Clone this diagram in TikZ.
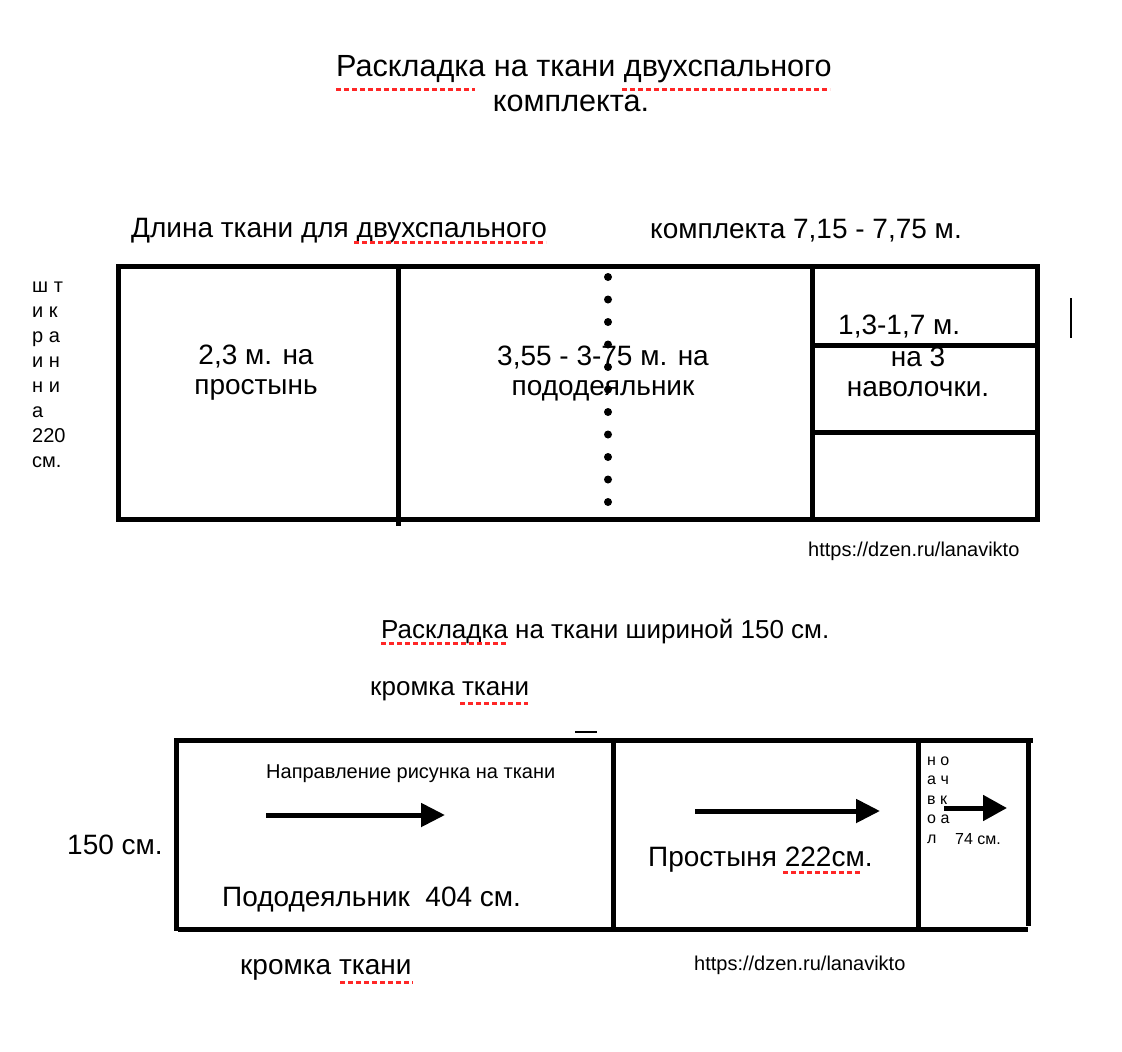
\documentclass[tikz,border=0pt]{standalone}
\usepackage{fontspec}
\setmainfont{Liberation Sans}
\usetikzlibrary{arrows.meta}

\tikzset{
  cutline/.style={line width=5pt, line cap=rect},
  spellline/.style={draw=red!85!white, line width=3pt, dash pattern=on 5pt off 3pt},
  dirarrow/.style={line width=5pt, -{Triangle[length=24pt,width=23pt]}},
  titletxt/.style={font=\fontsize{30.6}{35}\selectfont, inner sep=0pt},
  bigtxt/.style={font=\fontsize{28}{30}\selectfont, inner sep=0pt, align=center},
  midtxt/.style={font=\fontsize{26}{30}\selectfont, inner sep=0pt},
  smalltxt/.style={font=\fontsize{20}{25}\selectfont, inner sep=0pt, align=left},
  tinytxt/.style={font=\fontsize{16}{19.5}\selectfont, inner sep=0pt, align=left}
}

\begin{document}
\begin{tikzpicture}[x=1pt,y=-1pt]
    \useasboundingbox (0,0) rectangle (1122,1052);

    % 1. Title
    \node[titletxt] (title) at (584,69) {Раскладка на ткани двухспального};
    \node[titletxt] (titleb) at (571,103) {комплекта.};
    \draw[spellline] (336,89) -- (475,89);
    \draw[spellline] (622,89) -- (830,89);

    % 2. Length of the fabric
    \node[bigtxt, anchor=west] (len1) at (131,231) {Длина ткани для двухспального};
    \node[bigtxt, anchor=west] (len2) at (650,231) {комплекта 7,15 - 7,75 м.};
    \draw[spellline] (354,242) -- (546,242);

    % 3. Width written down the left side
    \node[smalltxt, anchor=west] (width) at (32,375) {ш т\\и к\\р а\\и н\\н и\\а\\220\\см.};

    % 4. Upper layout
    \draw[cutline] (118,266) -- (1037,266);
    \draw[cutline] (118,519) -- (1037,519);
    \draw[cutline] (118,266) -- (118,519);
    \draw[cutline] (398,266) -- (398,523);
    \draw[cutline] (812,266) -- (812,519);
    \draw[cutline] (1037,266) -- (1037,519);
    \draw[cutline] (812,345) -- (1033,345);
    \draw[cutline] (812,432) -- (1037,432);

    \node[bigtxt] (sheet) at (256,373) {2,3 м. на\\простынь};
    \node[bigtxt] (cover) at (603,374) {3,55 - 3-75 м. на\\пододеяльник};
    \node[bigtxt, anchor=west] (pill) at (838,327) {1,3-1,7 м.};
    \node[bigtxt] (pill2) at (918,372) {на 3\\наволочки.};

    % 5. Fold line as dots
    \foreach \i in {0,...,10}
        \fill (608,{277+22.5*\i}) circle (4pt);

    % 6. Mark right of the layout
    \draw[line width=2pt] (1071,298) -- (1071,338);

    \node[font=\fontsize{20}{24}\selectfont, inner sep=0pt, anchor=west] (link1) at (808,551) {https://dzen.ru/lanavikto};

    % 7. Second title
    \node[midtxt, anchor=west] (title2) at (381,632) {Раскладка на ткани шириной 150 см.};
    \draw[spellline] (381,643) -- (506,643);
    \node[midtxt, anchor=west] (edge1) at (370,691) {кромка ткани};
    \draw[spellline] (460,703) -- (528,703);
    \draw[line width=1.5pt] (575,732) -- (597,732);

    % 8. Lower layout
    \draw[cutline] (177,740) -- (1030,740);
    \draw[cutline] (180,929) -- (1025,929);
    \draw[cutline] (176,740) -- (176,928);
    \draw[cutline] (613,740) -- (613,929);
    \draw[cutline] (918,740) -- (918,929);
    \draw[cutline] (1028,742) -- (1028,923);

    \node[bigtxt, anchor=west] (w150) at (67,845) {150 см.};

    \node[smalltxt, anchor=west] (dir) at (266,774) {Направление рисунка на ткани};
    \coordinate (a1s) at (266,815);
    \coordinate (a1e) at (445,815);
    \draw[dirarrow] (a1s) -- (a1e);
    \node[bigtxt, anchor=west] (cover2) at (222,900) {Пододеяльник\ \ 404 см.};

    \coordinate (a2s) at (695,811);
    \coordinate (a2e) at (880,811);
    \draw[dirarrow] (a2s) -- (a2e);
    \node[bigtxt, anchor=west] (sheet2) at (648,860) {Простыня 222см.};
    \draw[spellline] (783,872) -- (860,872);

    \node[tinytxt, anchor=west] (pill3) at (927,800) {н о\\а ч\\в к\\о а\\л};
    \coordinate (a3s) at (944,808);
    \coordinate (a3e) at (1007,808);
    \draw[dirarrow, -{Triangle[length=24pt,width=25pt]}] (a3s) -- (a3e);
    \node[tinytxt, anchor=west] (p74) at (955,839) {74 см.};

    % 9. Bottom edge text
    \node[bigtxt, anchor=west] (edge2) at (240,970) {кромка ткани};
    \draw[spellline] (340,982) -- (413,982);
    \node[font=\fontsize{20}{24}\selectfont, inner sep=0pt, anchor=west] (link2) at (694,965) {https://dzen.ru/lanavikto};

\end{tikzpicture}
\end{document}
